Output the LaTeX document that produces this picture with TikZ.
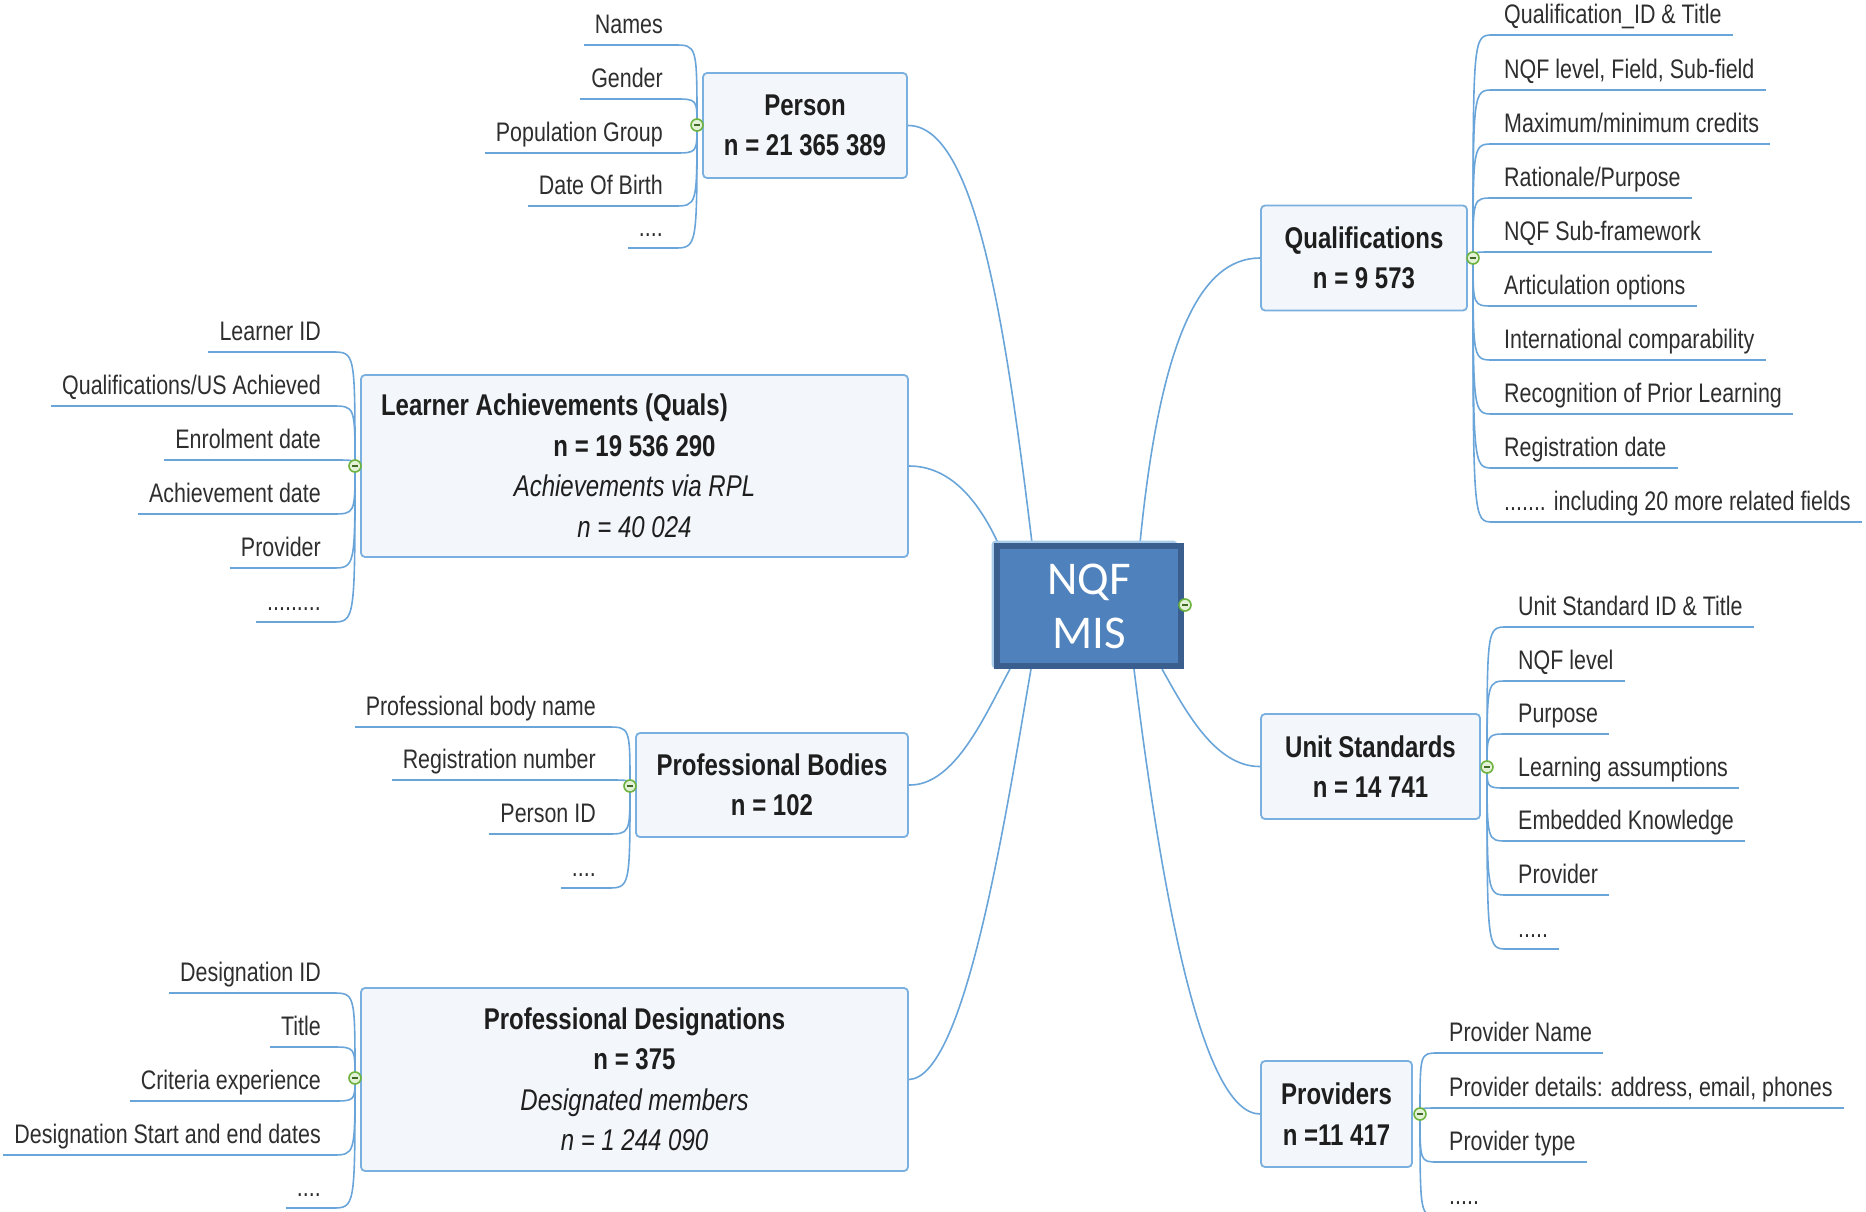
\documentclass[tikz,border=0pt]{standalone}
\usepackage{fontspec}
\setmainfont{Liberation Sans}[FakeStretch=0.8]
\newfontfamily\nqffont{Carlito}
\usetikzlibrary{calc}
\pgfdeclarelayer{bg}
\pgfsetlayers{bg,main}

\definecolor{linkblue}{HTML}{6AA5DA}
\definecolor{boxline}{HTML}{7AB0DF}
\definecolor{boxfill}{HTML}{F3F7FC}
\definecolor{itemtext}{HTML}{2E2E2E}
\definecolor{titletext}{HTML}{1E1E1E}
\definecolor{hubgreen}{HTML}{6DB33F}
\definecolor{hubfill}{HTML}{E3F2D6}
\definecolor{nqfblue}{HTML}{4F81BD}
\definecolor{nqfedge}{HTML}{3A5F8E}
\definecolor{nqfglow}{HTML}{A9CCEB}

% italic annotation lines inside a topic box
\newcommand{\notefont}{\fontsize{30}{40.5}\selectfont\mdseries\itshape}

\tikzset{
  topic/.style={draw=boxline, fill=boxfill, line width=1.8pt, rounded corners=4pt,
    align=center, inner sep=0pt, text=titletext,
    font=\fontsize{30}{40.5}\selectfont\bfseries},
  hub/.style={circle, draw=hubgreen, fill=hubfill, line width=1.6pt,
    minimum size=12pt, inner sep=0pt,
    path picture={\draw[hubgreen!60!black, line width=1.7pt]
      ([xshift=-2.8pt]path picture bounding box.center) --
      ([xshift=2.8pt]path picture bounding box.center);}},
  leaf/.style={font=\fontsize{26.8}{30}\selectfont, text=itemtext,
    inner xsep=11pt, inner ysep=11pt, text depth=0pt, text height=19pt},
  link/.style={draw=linkblue, line width=1.6pt},
  underline/.style={draw=linkblue, line width=2pt}
}

% leaf on the left of its hub: #1 name, #2 hub, #3 south-east point, #4 text
\newcommand{\leafL}[4]{%
  \node[leaf, anchor=south east] (#1) at (#3) {#4};
  \begin{pgfonlayer}{bg}
    \draw[underline] (#1.south west) -- (#1.south east);
    \draw[link] (#1.south east) .. controls (#2 |- #1.south east) .. (#2.center);
  \end{pgfonlayer}}
% leaf on the right of its hub: #1 name, #2 hub, #3 south-west point, #4 text
\newcommand{\leafR}[4]{%
  \node[leaf, anchor=south west] (#1) at (#3) {#4};
  \begin{pgfonlayer}{bg}
    \draw[underline] (#1.south west) -- (#1.south east);
    \draw[link] (#1.south west) .. controls (#2 |- #1.south west) .. (#2.center);
  \end{pgfonlayer}}

\begin{document}
\begin{tikzpicture}[x=1pt, y=-1pt]
\useasboundingbox (0,0) rectangle (1866,1212);

% ---- central topic ----
\draw[nqfglow, line width=3pt, rounded corners=3pt] (993,542) rectangle (1176,667);
\node[draw=nqfedge, fill=nqfblue, line width=6pt, minimum width=184pt,
      minimum height=120pt, inner sep=0pt, align=center, text=white,
      font=\nqffont\fontsize{47}{54}\selectfont] (nqf) at (1089,606) {NQF\\MIS};
\node[hub] (nh) at (1185,605) {};

% ---- main topics ----
\node[topic, minimum width=204pt, minimum height=105pt] (person) at (805,125.5)
  {Person\\n = 21 365 389};
\node[topic, minimum width=206pt, minimum height=105pt] (quals) at (1364,258)
  {Qualifications\\n = 9 573};
\node[topic, minimum width=547pt, minimum height=182pt] (learn) at (634.5,466)
  {\makebox[507pt][l]{Learner Achievements (Quals)}\\n = 19 536 290\\
   {\notefont Achievements via RPL}\\{\notefont n = 40 024}};
\node[topic, minimum width=272pt, minimum height=104pt] (bodies) at (772,785)
  {Professional Bodies\\n = 102};
\node[topic, minimum width=547pt, minimum height=183pt] (desig) at (634.5,1079.5)
  {Professional Designations\\n = 375\\{\notefont Designated members}\\{\notefont n = 1 244 090}};
\node[topic, minimum width=219pt, minimum height=105pt] (units) at (1370.5,766.5)
  {Unit Standards\\n = 14 741};
\node[topic, minimum width=151pt, minimum height=106pt] (provs) at (1336.5,1114)
  {Providers\\n =11 417};

% ---- hubs beside the main topics ----
\node[hub] (ph) at (697,125) {};
\node[hub] (qh) at (1473,258) {};
\node[hub] (lh) at (355,466) {};
\node[hub] (bh) at (630,786) {};
\node[hub] (dh) at (355,1078) {};
\node[hub] (uh) at (1487,767) {};
\node[hub] (vh) at (1420,1114) {};

% ---- links from the central topic ----
\begin{pgfonlayer}{bg}
\draw[link] (person.east) .. controls (975,125) and (1005,320) .. ($(nqf.north west)+(38,0)$);
\draw[link] (learn.east) .. controls (950,466) and (978,500) .. ($(nqf.north west)+(4,0)$);
\draw[link] (quals.west) .. controls (1200,258) and (1160,340) .. ($(nqf.north west)+(146,0)$);
\draw[link] (bodies.east) .. controls (955,786) and (985,715) .. ($(nqf.south west)+(16,0)$);
\draw[link] (desig.east) .. controls (965,1078) and (1005,820) .. ($(nqf.south west)+(37,0)$);
\draw[link] (units.west) .. controls (1215,767) and (1185,710) .. ($(nqf.south west)+(168,0)$);
\draw[link] (provs.west) .. controls (1200,1114) and (1160,880) .. ($(nqf.south west)+(140,0)$);
\end{pgfonlayer}

% ---- Person fields ----
\leafL{p1}{ph}{674,45}{Names}
\leafL{p2}{ph}{674,99}{Gender}
\leafL{p3}{ph}{674,153}{Population Group}
\leafL{p4}{ph}{674,206}{Date Of Birth}
\leafL{p5}{ph}{674,248}{....}

% ---- Learner Achievements fields ----
\leafL{l1}{lh}{332,352}{Learner ID}
\leafL{l2}{lh}{332,406}{Qualifications/US Achieved}
\leafL{l3}{lh}{332,460}{Enrolment date}
\leafL{l4}{lh}{332,514}{Achievement date}
\leafL{l5}{lh}{332,568}{Provider}
\leafL{l6}{lh}{332,622}{.........}

% ---- Professional Bodies fields ----
\leafL{b1}{bh}{607,727}{Professional body name}
\leafL{b2}{bh}{607,780}{Registration number}
\leafL{b3}{bh}{607,834}{Person ID}
\leafL{b4}{bh}{607,888}{....}

% ---- Professional Designations fields ----
\leafL{d1}{dh}{332,993}{Designation ID}
\leafL{d2}{dh}{332,1047}{Title}
\leafL{d3}{dh}{332,1101}{Criteria experience}
\leafL{d4}{dh}{332,1155}{Designation Start and end dates}
\leafL{d5}{dh}{332,1208}{....}

% ---- Qualifications fields ----
\leafR{q1}{qh}{1493,35}{Qualification\_ID \& Title}
\leafR{q2}{qh}{1493,90}{NQF level, Field, Sub-field}
\leafR{q3}{qh}{1493,144}{Maximum/minimum credits}
\leafR{q4}{qh}{1493,198}{Rationale/Purpose}
\leafR{q5}{qh}{1493,252}{NQF Sub-framework}
\leafR{q6}{qh}{1493,306}{Articulation options}
\leafR{q7}{qh}{1493,360}{International comparability}
\leafR{q8}{qh}{1493,414}{Recognition of Prior Learning}
\leafR{q9}{qh}{1493,468}{Registration date}
\leafR{q10}{qh}{1493,522}{....... including 20 more related fields}

% ---- Unit Standards fields ----
\leafR{u1}{uh}{1507,627}{Unit Standard ID \& Title}
\leafR{u2}{uh}{1507,681}{NQF level}
\leafR{u3}{uh}{1507,734}{Purpose}
\leafR{u4}{uh}{1507,788}{Learning assumptions}
\leafR{u5}{uh}{1507,841}{Embedded Knowledge}
\leafR{u6}{uh}{1507,895}{Provider}
\leafR{u7}{uh}{1507,949}{.....}

% ---- Providers fields ----
\leafR{v1}{vh}{1438,1053}{Provider Name}
\leafR{v2}{vh}{1438,1108}{Provider details: address, email, phones}
\leafR{v3}{vh}{1438,1162}{Provider type}
\leafR{v4}{vh}{1438,1216}{.....}
\end{tikzpicture}
\end{document}
